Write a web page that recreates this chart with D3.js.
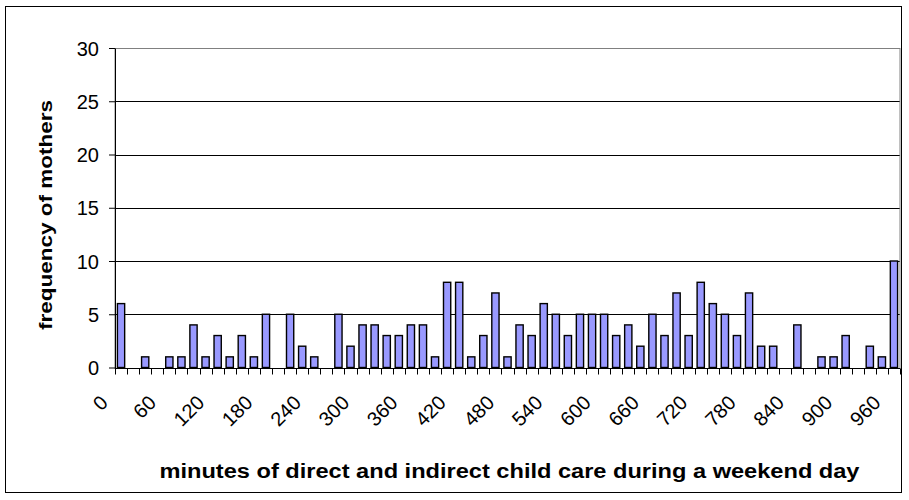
<!DOCTYPE html>
<html>
<head>
<meta charset="utf-8">
<script src="https://cdn.jsdelivr.net/npm/d3@7"></script>
<style>
  html, body { margin: 0; padding: 0; background: #fff; }
  svg { display: block; }
  text { font-family: Arial, "Liberation Sans", sans-serif; fill: #000; }
</style>
</head>
<body>
<svg id="chart" width="909" height="500"></svg>
<script>
// ---- data ----
const minutes = [0,15,30,45,60,75,90,105,120,135,150,165,180,195,210,225,240,255,270,285,
  300,315,330,345,360,375,390,405,420,435,450,465,480,495,510,525,540,555,570,585,
  600,615,630,645,660,675,690,705,720,735,750,765,780,795,810,825,840,855,870,885,
  900,915,930,945,960];
const frequency = [6,0,1,0,1,1,4,1,3,1,3,1,5,0,5,2,1,0,5,2,
  4,4,3,3,4,4,1,8,8,1,3,7,1,4,3,6,5,3,5,5,
  5,3,4,2,5,3,7,3,8,6,5,3,7,2,2,0,4,0,1,1,
  3,0,2,1,10];
const xTickLabels = [0,60,120,180,240,300,360,420,480,540,600,660,720,780,840,900,960];
const yTickValues = [0,5,10,15,20,25,30];
const xTitle = "minutes of direct and indirect child care during a weekend day";
const yTitle = "frequency of mothers";

// ---- layout ----
const svg = d3.select("#chart");
const plot = { left: 115, right: 900, top: 48, bottom: 367.5 };

svg.append("rect").attr("x", 5.5).attr("y", 6.5).attr("width", 896).attr("height", 486)
  .attr("fill", "#fff").attr("stroke", "#000").attr("stroke-width", 1);

const x = d3.scaleBand().domain(minutes).range([plot.left, plot.right]).padding(0);
const y = d3.scaleLinear().domain([0, 30]).range([plot.bottom, plot.top]);

// gridlines
svg.append("g").selectAll("line").data(yTickValues.filter(v => v > 0 && v < 30)).join("line")
  .attr("x1", plot.left).attr("x2", plot.right)
  .attr("y1", d => Math.round(y(d)) + 0.5).attr("y2", d => Math.round(y(d)) + 0.5)
  .attr("stroke", "#000").attr("stroke-width", 1);

// plot border
svg.append("rect").attr("x", plot.left).attr("y", Math.round(y(30)) + 0.5)
  .attr("width", plot.right - plot.left).attr("height", Math.round(y(0)) - Math.round(y(30)))
  .attr("fill", "none").attr("stroke", "#808080").attr("stroke-width", 1);

// bars
const bw = x.bandwidth() * 0.6;
svg.append("g").selectAll("rect").data(minutes.map((m, i) => ({ m, v: frequency[i] })).filter(d => d.v > 0))
  .join("rect")
  .attr("x", d => x(d.m) + (x.bandwidth() - bw) / 2)
  .attr("y", d => y(d.v))
  .attr("width", bw)
  .attr("height", d => y(0) - y(d.v))
  .attr("fill", "#9999FF").attr("stroke", "#000").attr("stroke-width", 1.4);

// y axis
const yAxis = svg.append("g").attr("transform", `translate(${plot.left},0)`)
  .call(d3.axisLeft(y).tickValues(yTickValues).tickSize(6).tickSizeOuter(0).tickPadding(10));
yAxis.select(".domain").attr("stroke", "#000");
yAxis.selectAll(".tick line").attr("stroke", "#000");
yAxis.selectAll(".tick text").style("font-size", "20px").attr("dy", "0.36em");

// x axis line
svg.append("line").attr("x1", plot.left).attr("x2", plot.right)
  .attr("y1", Math.round(y(0)) + 0.5).attr("y2", Math.round(y(0)) + 0.5)
  .attr("stroke", "#000");

// x ticks at category boundaries
const boundaries = minutes.map(m => x(m)).concat([plot.right]);
svg.append("g").selectAll("line").data(boundaries).join("line")
  .attr("x1", d => Math.round(d) + 0.5).attr("x2", d => Math.round(d) + 0.5)
  .attr("y1", Math.round(y(0)) + 0.5).attr("y2", Math.round(y(0)) + 6.5)
  .attr("stroke", "#000");

// x tick labels
svg.append("g").selectAll("text").data(xTickLabels).join("text")
  .attr("transform", d => `translate(${x(d) + x.bandwidth() / 2 - 12},404) rotate(-45)`)
  .attr("text-anchor", "end")
  .style("font-size", "20px")
  .text(d => d);

// titles
svg.append("text").attr("x", (plot.left + plot.right) / 2 + 2).attr("y", 478)
  .attr("text-anchor", "middle").style("font-size", "20px").style("font-weight", "bold")
  .attr("textLength", 700).attr("lengthAdjust", "spacingAndGlyphs")
  .text(xTitle);

svg.append("text").attr("transform", `translate(52,215) rotate(-90)`)
  .attr("text-anchor", "middle").style("font-size", "19px").style("font-weight", "bold")
  .attr("textLength", 230).attr("lengthAdjust", "spacingAndGlyphs")
  .text(yTitle);
</script>
</body>
</html>
